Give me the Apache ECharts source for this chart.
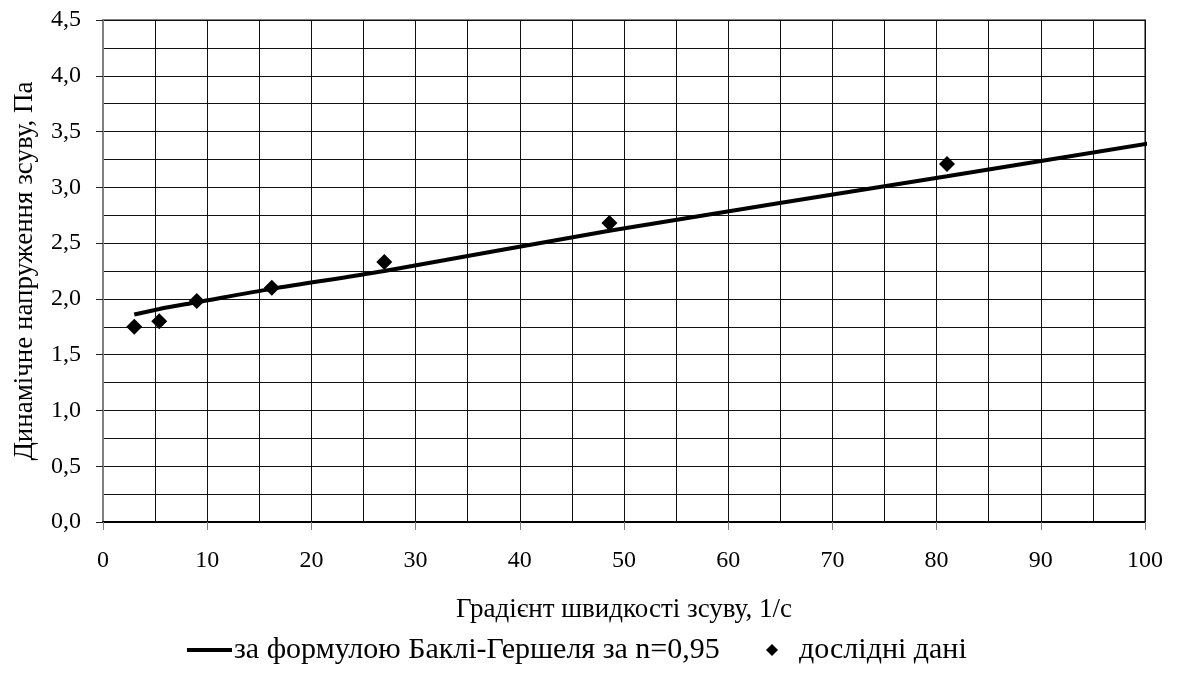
<!DOCTYPE html>
<html>
<head>
<meta charset="utf-8">
<script src="https://cdn.jsdelivr.net/npm/echarts@6/dist/echarts.min.js"></script>
<style>
  html, body { margin: 0; padding: 0; background: #fff; }
  #chart { width: 1178px; height: 673px; }
</style>
</head>
<body>
<div id="chart"></div>
<script>
// Shear rate (1/s) and measured dynamic shear stress (Pa)
const shearRate = [3, 5.4, 9, 16.2, 27, 48.6, 81];
const measuredStress = [1.75, 1.80, 1.98, 2.10, 2.33, 2.68, 3.21];

// Buckley-Herschel model curve, n = 0.95
const modelRate = [3, 5.4, 9, 16.2, 27, 48.6, 81, 100.8];
const modelStress = [1.86, 1.91, 1.97, 2.09, 2.25, 2.61, 3.10, 3.40];

const modelName = 'за формулою Баклі-Гершеля за n=0,95';
const measuredName = 'дослідні дані';
const xTitle = 'Градієнт швидкості зсуву, 1/с';
const yTitle = 'Динамічне напруження зсуву, Па';

const FONT = '"Liberation Serif", "DejaVu Serif", serif';

const chart = echarts.init(document.getElementById('chart'), null, { renderer: 'canvas' });

chart.setOption({
  animation: false,
  backgroundColor: '#fff',
  textStyle: { fontFamily: FONT, color: '#000' },
  grid: {
    left: 103, top: 20, width: 1042, height: 502,
    show: true, borderColor: '#808080', borderWidth: 2, backgroundColor: 'transparent'
  },
  legend: [
    {
      data: [modelName],
      left: 187, top: 635, padding: 0,
      itemWidth: 45, itemHeight: 14, itemGap: 0,
      textStyle: { fontFamily: FONT, fontSize: 30, color: '#000', padding: [0, 0, 0, -3] },
      icon: 'path://M0,0 L45,0 L45,4 L0,4 Z',
      itemStyle: { color: '#000' }
    },
    {
      data: [measuredName],
      left: 766, top: 635, padding: 0,
      itemWidth: 12, itemHeight: 12,
      textStyle: { fontFamily: FONT, fontSize: 30, color: '#000', padding: [0, 0, 0, 16] },
      icon: 'diamond',
      itemStyle: { color: '#000', opacity: 1 }
    }
  ],
  xAxis: {
    type: 'value', min: 0, max: 100, interval: 10,
    name: xTitle, nameLocation: 'middle', nameGap: 74,
    nameTextStyle: { fontFamily: FONT, fontSize: 27, color: '#000' },
    axisLine: { show: true, onZero: false, lineStyle: { color: '#000', width: 2 } },
    axisTick: { show: true, length: 8, lineStyle: { color: '#808080', width: 1 } },
    axisLabel: { fontFamily: FONT, fontSize: 24, color: '#000', margin: 27 },
    splitLine: { show: true, lineStyle: { color: '#111', width: 1 } },
    minorTick: { show: false, splitNumber: 2 },
    minorSplitLine: { show: true, lineStyle: { color: '#111', width: 1 } }
  },
  yAxis: {
    type: 'value', min: 0, max: 4.5, interval: 0.5,
    name: yTitle, nameLocation: 'middle', nameGap: 65,
    nameTextStyle: { fontFamily: FONT, fontSize: 27, color: '#000' },
    axisLine: { show: true, lineStyle: { color: '#808080', width: 2 } },
    axisTick: { show: true, length: 7, lineStyle: { color: '#222', width: 1 } },
    axisLabel: {
      fontFamily: FONT, fontSize: 24, color: '#000', margin: 22,
      formatter: v => v.toFixed(1).replace('.', ',')
    },
    splitLine: { show: true, lineStyle: { color: '#111', width: 1 } },
    minorTick: { show: false, splitNumber: 2 },
    minorSplitLine: { show: true, lineStyle: { color: '#111', width: 1 } }
  },
  series: [
    {
      name: modelName,
      type: 'line',
      data: modelRate.map((x, i) => [x, modelStress[i]]),
      symbol: 'none',
      smooth: 0.3,
      clip: false,
      lineStyle: { color: '#000', width: 4 },
      itemStyle: { color: '#000' },
      z: 3
    },
    {
      name: measuredName,
      type: 'scatter',
      data: shearRate.map((x, i) => [x, measuredStress[i]]),
      symbol: 'diamond',
      symbolSize: 16,
      itemStyle: { color: '#000', opacity: 1 },
      z: 4
    }
  ]
});
</script>
</body>
</html>
